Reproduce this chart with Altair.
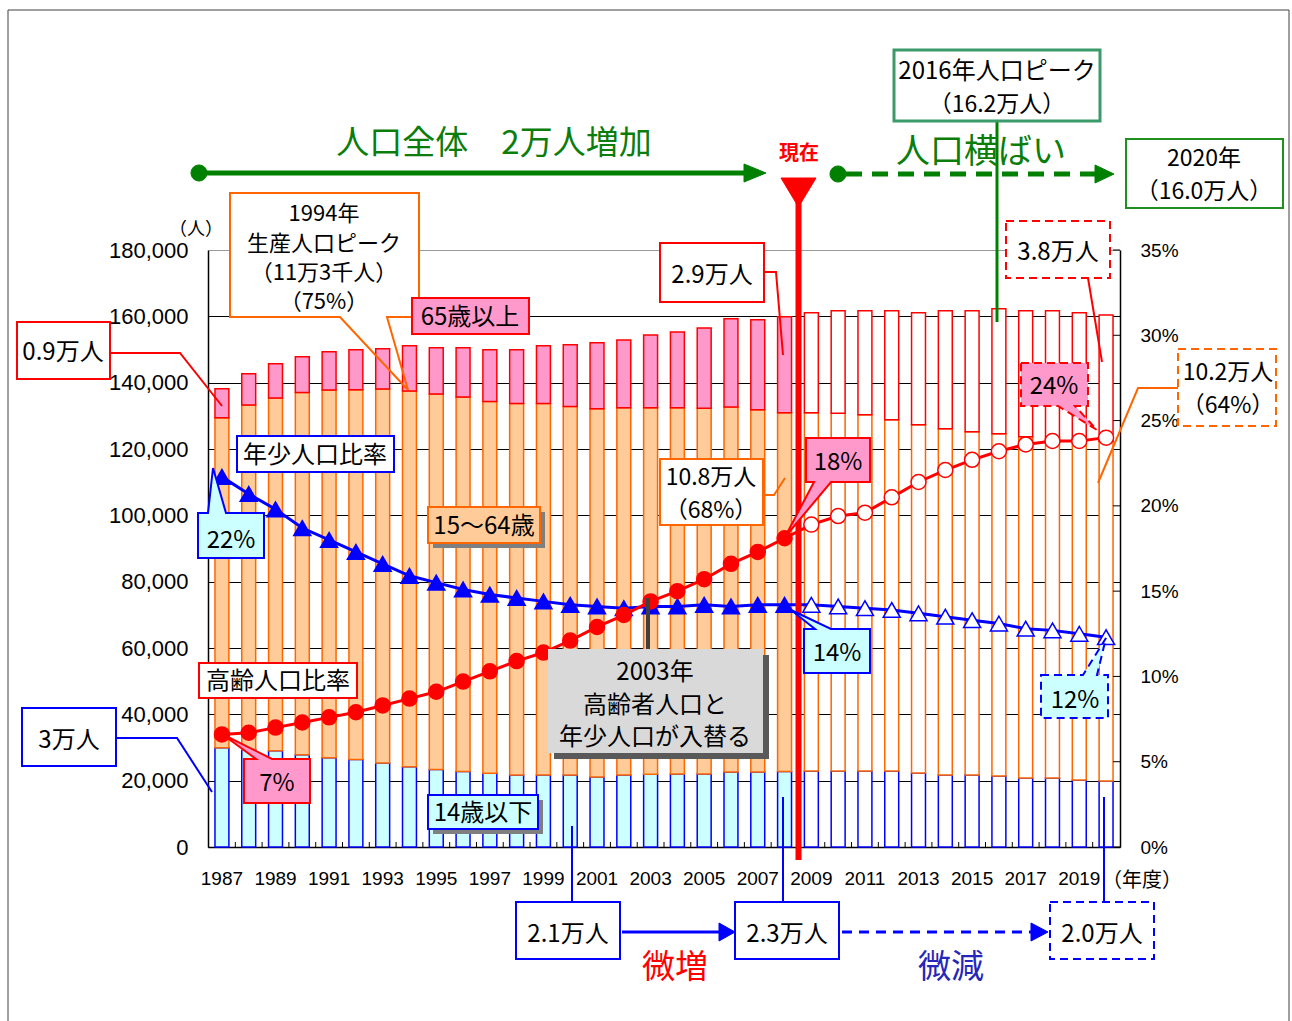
import altair as alt
import pandas as pd

# ---- data -------------------------------------------------------------
years = list(range(1987, 2021))
first_projection_year = 2009

# population by age group (people)
age_0_14 = [29900, 29400, 29000, 27800, 26900, 26400, 25300, 24200, 23400, 22800,
            22200, 21700, 21700, 21700, 21100, 21700, 21900, 22000, 22000, 22600,
            22600, 22800, 22900, 22900, 22900, 22900, 22300, 21700, 21700, 21400,
            20800, 20800, 20200, 19900]
age_15_64 = [99500, 103900, 106400, 109200, 110900, 111500, 112800, 113300, 113200, 112900,
             112100, 112000, 112000, 111100, 111000, 110700, 110500, 110400, 110300, 110100,
             109200, 108100, 108000, 107900, 107400, 105900, 105000, 104400, 103500, 103200,
             102900, 102800, 102600, 102400]
age_65_plus = [8800, 9400, 10300, 10800, 11500, 12000, 12100, 13600, 13900, 14800,
               15600, 16200, 17400, 18600, 19900, 20500, 22000, 22900, 24200, 26600,
               27200, 29000, 30200, 30900, 31400, 32900, 33800, 35600, 36500, 37700,
               38000, 38100, 38300, 38100]

# shares of the total population (%)
youth_ratio = [21.7, 20.7, 19.8, 18.7, 18.0, 17.3, 16.6, 15.9, 15.5, 15.1,
               14.8, 14.6, 14.4, 14.2, 14.1, 14.0, 14.1, 14.1, 14.2, 14.1,
               14.2, 14.2, 14.2, 14.1, 14.0, 13.9, 13.7, 13.5, 13.3, 13.1,
               12.8, 12.7, 12.5, 12.3]
elderly_ratio = [6.6, 6.7, 7.0, 7.3, 7.6, 7.9, 8.3, 8.7, 9.1, 9.7,
                 10.3, 10.9, 11.4, 12.1, 12.9, 13.6, 14.4, 15.0, 15.7, 16.6,
                 17.3, 18.1, 18.9, 19.4, 19.6, 20.5, 21.4, 22.1, 22.7, 23.2,
                 23.6, 23.8, 23.8, 24.0]

people_ticks = [0, 20000, 40000, 60000, 80000, 100000, 120000, 140000, 160000, 180000]
percent_ticks = [0, 5, 10, 15, 20, 25, 30, 35]

# ---- styling ----------------------------------------------------------
GREEN = "#008000"
ORANGE = "#ff6600"
RED = "#ff0000"
BLUE = "#0000ff"
CYAN = "#ccffff"
PEACH = "#ffcc99"
PINK = "#ff99cc"
JP = "Noto Sans CJK JP"
NUM = "Liberation Sans"

W, H = 912, 597
LEFT, TOP = 208, 250

groups = [
    ("0-14", age_0_14, CYAN, BLUE),
    ("15-64", age_15_64, PEACH, ORANGE),
    ("65+", age_65_plus, PINK, RED),
]
bar_rows = []
for i, yr in enumerate(years):
    lo = 0
    for name, vals, fill, stroke in groups:
        hi = lo + vals[i]
        bar_rows.append(dict(year=yr, group=name, lo=lo, hi=hi,
                             fill="#ffffff" if yr >= first_projection_year else fill,
                             stroke=stroke))
        lo = hi
bars_df = pd.DataFrame(bar_rows)

ratio_df = pd.DataFrame({"year": years, "youth": youth_ratio, "elderly": elderly_ratio})

x_axis = alt.Axis(orient="bottom", title=None, labelAngle=0, ticks=False,
                  labelExpr="datum.value % 2 == 1 ? datum.label : ''",
                  labelOverlap=False, labelFont=NUM, labelFontSize=19,
                  labelColor="#000000", labelPadding=22,
                  domainColor="#000000", domainWidth=1.5)
x_scale = alt.Scale(paddingInner=0.48, paddingOuter=0.26)
x_enc = alt.X("year:O", scale=x_scale, axis=x_axis)

people_scale = alt.Scale(domain=[0, 180000], nice=False)
pct_scale = alt.Scale(domain=[0, 35], nice=False)

bars = alt.Chart(bars_df).mark_bar(strokeWidth=1.5, opacity=1).encode(
    x=x_enc,
    y=alt.Y("lo:Q", scale=people_scale,
            axis=alt.Axis(orient="left", title=None, values=people_ticks, format=",d",
                          ticks=False, labelFont=NUM, labelFontSize=22,
                          labelColor="#000000", labelPadding=20,
                          domainColor="#000000", domainWidth=1.5,
                          grid=True, gridWidth=1,
                          gridColor={"condition": {"test": "datum.value == 180000",
                                                   "value": "#9a9a9a"},
                                     "value": "#000000"})),
    y2="hi:Q",
    fill=alt.Fill("fill:N", scale=None),
    stroke=alt.Stroke("stroke:N", scale=None),
)

# small inward ticks between the year bands
x_ticks = alt.Chart(pd.DataFrame({"year": years})).mark_rule(
    color="#000000", strokeWidth=1, xOffset=-6.43
).encode(
    x=alt.X("year:O", scale=x_scale, axis=x_axis, bandPosition=0),
    y=alt.value(H - 5), y2=alt.value(H),
)

# inward ticks on the percentage axis
pct_ticks = alt.Chart(pd.DataFrame({"v": percent_ticks})).mark_rule(
    color="#000000", strokeWidth=1
).encode(
    y=alt.Y("v:Q", scale=pct_scale, axis=None),
    x=alt.value(W - 7), x2=alt.value(W),
)

projected = "datum.year >= %d" % first_projection_year

elderly_line = alt.Chart(ratio_df).mark_line(color=RED, strokeWidth=3).encode(
    x=x_enc,
    y=alt.Y("elderly:Q", scale=pct_scale,
            axis=alt.Axis(orient="right", title=None, values=percent_ticks,
                          labelExpr="datum.value + '%'", ticks=False, grid=False,
                          labelFont=NUM, labelFontSize=19, labelColor="#000000",
                          labelPadding=20, domainColor="#000000", domainWidth=1.5)),
)
youth_line = alt.Chart(ratio_df).mark_line(color=BLUE, strokeWidth=3).encode(
    x=x_enc,
    y=alt.Y("youth:Q", scale=pct_scale, axis=None),
)
youth_pts = alt.Chart(ratio_df).mark_point(
    shape="triangle-up", size=290, filled=True, opacity=1, strokeWidth=1.5
).encode(
    x=x_enc,
    y=alt.Y("youth:Q", scale=pct_scale, axis=None),
    fill=alt.condition(projected, alt.value("#ffffff"), alt.value(BLUE)),
    stroke=alt.value(BLUE),
)
elderly_pts = alt.Chart(ratio_df).mark_point(
    shape="circle", size=225, filled=True, opacity=1, strokeWidth=1.5
).encode(
    x=x_enc,
    y=alt.Y("elderly:Q", scale=pct_scale, axis=None),
    fill=alt.condition(projected, alt.value("#ffffff"), alt.value(RED)),
    stroke=alt.value(RED),
)


# ---- annotation shapes (page pixel coordinates) -----------------------
def rect(x0, y0, x1, y1):
    return f"M{x0},{y0}L{x1},{y0}L{x1},{y1}L{x0},{y1}Z"


def poly(*pts, closed=True):
    return "M" + "L".join(f"{x},{y}" for x, y in pts) + ("Z" if closed else "")


def dot(cx, cy, r):
    return (f"M{cx - r},{cy}A{r},{r} 0 1,0 {cx + r},{cy}"
            f"A{r},{r} 0 1,0 {cx - r},{cy}Z")


NONE = "transparent"
shape_rows = []


def add(path, fill=NONE, stroke=NONE, sw=2, style="solid"):
    shape_rows.append(dict(path=path, fill=fill, stroke=stroke, sw=sw, style=style))


# frame
add(rect(8, 10, 1289, 1030), stroke="#404040", sw=1)
# population trend arrows
add(poly((199, 173), (750, 173), closed=False), stroke=GREEN, sw=5)
add(poly((744, 164), (766, 173), (744, 182)), fill=GREEN, stroke=GREEN, sw=1)
add(dot(199, 173, 8), fill=GREEN, stroke=GREEN, sw=1)
add(dot(838, 174, 8), fill=GREEN, stroke=GREEN, sw=1)
add(poly((1095, 165), (1114, 174), (1095, 183)), fill=GREEN, stroke=GREEN, sw=1)
add(poly((846, 174), (1097, 174), closed=False), stroke=GREEN, sw=5, style="green")
# peak / 2020 boxes
add(poly((997, 121), (997, 322), closed=False), stroke=GREEN, sw=3)
add(rect(894, 50, 1100, 121), fill="#ffffff", stroke="#3a9a6a", sw=3)
add(rect(1126, 139, 1283, 208), fill="#ffffff", stroke="#1f8f1f", sw=2)
# current-year marker
add(poly((781, 178), (816, 178), (798.5, 207)), fill=RED, stroke=RED, sw=1)
add(poly((798.5, 200), (798.5, 860), closed=False), stroke=RED, sw=6)
# 1994 working-age peak callout
add(rect(230, 193, 419, 317), fill="#ffffff", sw=0)
add(poly((340, 317), (230, 317), (230, 193), (419, 193), (419, 317), (387, 317), (408, 390)),
    stroke=ORANGE, sw=2)
# legend-like labels
add(rect(412, 298, 529, 334), fill=PINK, stroke=RED)
add(poly((110, 353), (180, 353), (222, 406), closed=False), stroke=RED)
add(rect(17, 322, 110, 379), fill="#ffffff", stroke=RED)
add(rect(237, 436, 394, 472), fill="#ffffff", stroke=BLUE)
add(rect(433, 512, 545, 548), fill="#7f7f7f", sw=0)
add(rect(428, 507, 540, 543), fill=PEACH, stroke=ORANGE)
add(poly((198, 513), (208, 513), (213, 468), (226, 513), (264, 513), (264, 558), (198, 558)),
    fill=CYAN, stroke=BLUE)
add(rect(199, 663, 357, 698), fill="#ffffff", stroke=RED)
add(poly((116, 738), (177, 738), (212, 792), closed=False), stroke=BLUE)
add(rect(22, 708, 116, 766), fill="#ffffff", stroke=BLUE)
add(poly((244, 759), (256, 759), (222, 734), (272, 759), (310, 759), (310, 803), (244, 803)),
    fill=PINK, stroke=RED)
add(rect(433, 800, 543, 834), fill="#7f7f7f", sw=0)
add(rect(428, 795, 538, 829), fill=CYAN, stroke=BLUE)
# 2003 crossover note
add(poly((648, 598), (648, 649), closed=False), stroke="#404040", sw=4)
add(rect(554, 655, 769, 759), fill="#595959", sw=0)
add(rect(548, 649, 763, 753), fill="#d9d9d9", sw=0)
# 2008 values
add(poly((764, 272), (776, 272), (783, 355), closed=False), stroke=RED)
add(rect(660, 243, 764, 302), fill="#ffffff", stroke=RED)
add(poly((763, 495), (774, 495), (785, 478), closed=False), stroke=ORANGE)
add(rect(660, 459, 763, 525), fill="#ffffff", stroke=ORANGE)
add(poly((806, 438), (870, 438), (870, 482), (831, 482), (785, 537), (814, 482), (806, 482)),
    fill=PINK, stroke=RED)
add(poly((804, 629), (815, 629), (791, 610), (831, 629), (870, 629), (870, 673), (804, 673)),
    fill=CYAN, stroke=BLUE)
# 2020 values
add(poly((1088, 278), (1102, 362), closed=False), stroke=RED)
add(poly((1178, 388), (1138, 388), (1098, 483), closed=False), stroke=ORANGE)
add(rect(1006, 221, 1110, 278), fill="#ffffff", stroke=RED, style="box")
add(poly((1021, 363), (1088, 363), (1088, 406), (1075, 406), (1097, 430), (1058, 406), (1021, 406)),
    fill=PINK, stroke=RED, style="box")
add(rect(1178, 349, 1276, 426), fill="#ffffff", stroke=ORANGE, style="box")
add(poly((1041, 675), (1083, 675), (1106, 638), (1097, 675), (1108, 675), (1108, 718), (1041, 718)),
    fill=CYAN, stroke=BLUE, style="box")
# children count trend below the axis
for lx, ly in [(572, 826), (783, 797), (1104, 797)]:
    add(poly((lx, ly), (lx, 902), closed=False), stroke=BLUE)
add(rect(516, 902, 620, 959), fill="#ffffff", stroke=BLUE)
add(rect(735, 902, 839, 959), fill="#ffffff", stroke=BLUE)
add(rect(1050, 902, 1154, 959), fill="#ffffff", stroke=BLUE, style="box")
add(poly((622, 932), (722, 932), closed=False), stroke=BLUE, sw=3)
add(poly((719, 923), (735, 932), (719, 941)), fill=BLUE, stroke=BLUE, sw=1)
add(poly((842, 932), (1033, 932), closed=False), stroke=BLUE, sw=3, style="blue")
add(poly((1031, 923), (1048, 932), (1031, 941)), fill=BLUE, stroke=BLUE, sw=1)

shapes_df = pd.DataFrame(shape_rows)


def shape_layer(style, dash=None):
    props = dict(filled=True, opacity=1, size=4)
    if dash:
        props["strokeDash"] = dash
    return alt.Chart(shapes_df).transform_filter(
        alt.datum.style == style
    ).mark_point(**props).encode(
        x=alt.value(-LEFT), y=alt.value(-TOP),
        shape=alt.Shape("path:N", scale=None),
        fill=alt.Fill("fill:N", scale=None),
        stroke=alt.Stroke("stroke:N", scale=None),
        strokeWidth=alt.StrokeWidth("sw:Q", scale=None),
    )


# ---- annotation texts --------------------------------------------------
K = "#000000"
TG = "#0b7d0b"
texts = [
    ("（人）", 196, 230, 18, K),
    ("1994年", 324, 214, 22, K),
    ("生産人口ピーク", 324, 244, 22, K),
    ("（11万3千人）", 324, 273, 22, K),
    ("（75%）", 324, 302, 22, K),
    ("65歳以上", 470, 318, 24, K),
    ("0.9万人", 63, 353, 24, K),
    ("年少人口比率", 315, 456, 24, K),
    ("15～64歳", 484, 527, 24, K),
    ("22%", 231, 541, 24, K),
    ("高齢人口比率", 278, 682, 24, K),
    ("3万人", 69, 741, 24, K),
    ("7%", 277, 784, 24, K),
    ("14歳以下", 483, 814, 24, K),
    ("2003年", 655, 673, 24, K),
    ("高齢者人口と", 655, 706, 24, K),
    ("年少人口が入替る", 655, 738, 24, K),
    ("2.9万人", 712, 276, 24, K),
    ("10.8万人", 711, 478, 23, K),
    ("（68%）", 711, 511, 23, K),
    ("18%", 838, 463, 24, K),
    ("14%", 837, 654, 24, K),
    ("3.8万人", 1058, 253, 24, K),
    ("24%", 1054, 387, 24, K),
    ("10.2万人", 1228, 373, 23, K),
    ("（64%）", 1228, 406, 23, K),
    ("12%", 1075, 701, 24, K),
    ("2016年人口ピーク", 997, 72, 24, K),
    ("（16.2万人）", 997, 105, 23, K),
    ("2020年", 1204, 159, 23, K),
    ("（16.0万人）", 1204, 192, 23, K),
    ("人口全体　2万人増加", 494, 144, 33, TG),
    ("人口横ばい", 981, 153, 34, TG),
    ("2.1万人", 568, 935, 24, K),
    ("2.3万人", 787, 935, 24, K),
    ("2.0万人", 1102, 935, 24, K),
    ("微増", 675, 968, 33, RED),
    ("微減", 951, 968, 33, "#2626b8"),
    ("（年度）", 1142, 881, 20, K),
]
text_df = pd.DataFrame(texts, columns=["text", "px", "py", "size", "color"])
text_df["tx"] = text_df["px"] - LEFT
text_df["ty"] = text_df["py"] - TOP

labels = alt.Chart(text_df).mark_text(font=JP, align="center", baseline="middle").encode(
    x=alt.X("tx:Q", scale=None, axis=None),
    y=alt.Y("ty:Q", scale=None, axis=None),
    text="text:N",
    size=alt.Size("size:Q", scale=None),
    color=alt.Color("color:N", scale=None),
)
now_label = alt.Chart(pd.DataFrame({"t": ["現在"]})).mark_text(
    font=JP, fontWeight="bold", fontSize=20, color=RED, align="center", baseline="middle"
).encode(
    x=alt.value(799 - LEFT), y=alt.value(154 - TOP), text="t:N",
)

chart = alt.layer(
    bars, x_ticks, pct_ticks,
    youth_line, elderly_line, youth_pts, elderly_pts,
    shape_layer("solid"),
    shape_layer("green", [16, 10]),
    shape_layer("blue", [10, 7]),
    shape_layer("box", [8, 5]),
    labels, now_label,
).resolve_scale(
    y="independent"
).properties(
    width=W, height=H,
    padding={"left": LEFT, "top": TOP, "right": 1292 - LEFT - W, "bottom": 1021 - TOP - H},
    autosize=alt.AutoSizeParams(type="none"),
    background="#ffffff",
).configure_view(strokeWidth=0)

chart.save("out.html", embed_options={"renderer": "svg", "actions": False})
